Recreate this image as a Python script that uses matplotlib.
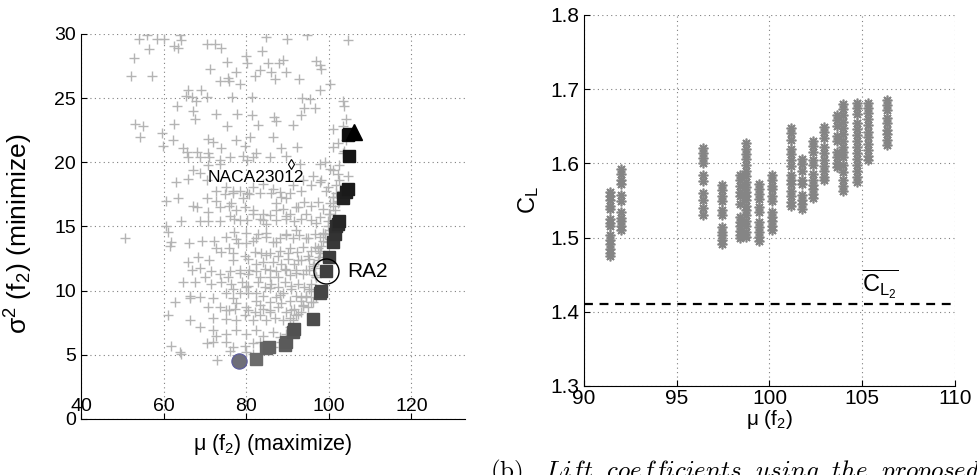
import matplotlib
matplotlib.use('Agg')
import matplotlib.pyplot as plt
import numpy as np

plt.rcParams['font.family'] = ['Liberation Sans', 'DejaVu Sans']
plt.rcParams['mathtext.default'] = 'regular'

# ---- left panel: all evaluated designs (mean vs variance of f2) ----
cloud_mu = [
    56.1, 54.1, 58.3, 56.5, 52.8, 52.1, 57.2, 60.1, 62.5, 63.9, 64.3, 63.5, 70.4, 72.5, 73.8, 80.0,
    83.9, 80.2, 84.9, 94.7, 89.8, 104.6, 75.4, 71.3, 77.5, 82.1, 75.5, 73.6, 75.8, 78.4, 83.3, 85.4,
    86.1, 86.9, 88.0, 88.9, 89.6, 92.8, 96.8, 97.8, 98.2, 100.3, 65.9, 66.9, 67.8, 65.5, 69.1, 63.3,
    70.6, 81.4, 76.5, 97.9, 93.4, 95.4, 103.4, 103.6, 96.6, 93.9,
    53.0, 55.1, 54.4, 62.5, 59.7, 59.9, 62.3, 64.6, 67.2, 67.6, 72.8, 75.3, 77.9, 81.4, 82.9, 86.7,
    87.3, 91.4, 93.2, 104.2, 101.0, 70.8, 72.0, 74.0, 77.6, 79.6, 80.9, 86.5, 88.5, 92.2, 101.0, 102.2,
    103.4, 65.6, 68.0, 68.8, 66.0, 70.8, 71.0, 73.6, 76.0, 79.3, 80.2, 81.6, 82.5, 85.7, 89.7, 93.0,
    97.8, 99.0, 100.2, 101.0, 102.2, 102.6, 70.8, 73.6,
    63.1, 63.6, 65.9, 67.1, 68.8, 70.4, 70.5, 70.8, 70.8, 72.8, 72.8, 75.2, 76.8, 78.5, 80.2, 81.7,
    84.1, 86.5, 88.1, 89.7, 91.4, 93.7, 96.2, 98.2, 99.8, 101.8, 101.0, 100.2, 102.2, 60.7, 67.2, 68.1,
    73.6, 75.9, 77.5, 79.6, 81.7, 84.1, 85.7, 87.3, 88.9, 90.5, 92.5, 94.1, 95.8, 97.4, 98.6, 100.0,
    101.4, 64.3, 68.8, 73.6, 77.0, 80.2, 83.3, 84.9, 87.3, 89.7, 91.7, 93.3, 95.8, 97.8, 99.8, 101.0,
    60.7, 50.6,
    61.1, 61.9, 61.5, 66.1, 69.4, 72.2, 72.6, 73.8, 75.8, 77.0, 78.0, 80.0, 81.6, 82.9, 84.9, 86.5,
    88.1, 89.7, 91.3, 92.9, 94.9, 96.6, 97.8, 99.0, 98.2, 99.8, 100.2, 97.4, 95.8, 93.8, 92.2, 90.5,
    88.1, 85.7, 83.7, 65.9, 68.3, 71.1, 76.8, 80.5, 82.5, 84.1, 86.5, 88.5, 90.1, 91.7, 93.3, 95.3,
    96.5, 97.7, 66.8, 68.8, 70.0, 71.6, 73.6, 76.0, 78.4, 80.5, 82.5, 84.5, 85.7, 87.3, 89.3, 90.5,
    92.1, 93.8, 95.3, 96.6, 64.7, 67.6, 71.6, 74.0, 76.4, 78.9, 80.5, 82.9, 84.5, 86.1, 87.7, 89.3,
    90.9, 92.5, 94.1, 95.7,
    66.3, 66.3, 62.7, 68.8, 72.0, 75.2, 76.8, 78.4, 80.5, 82.5, 84.1, 85.7, 87.3, 88.9, 90.5, 92.1,
    93.3, 94.5, 95.8, 97.0, 70.8, 73.6, 75.8, 77.4, 80.0, 82.1, 84.1, 85.7, 87.7, 89.7, 91.7, 93.3,
    95.0, 61.1, 66.3, 72.0, 75.2, 77.6, 79.6, 81.6, 83.3, 84.9, 86.9, 88.9, 90.5, 92.1, 68.8, 72.0,
    75.2, 77.6, 80.0, 82.5, 84.1, 86.5, 88.1, 89.7, 72.8, 75.2, 61.9, 70.4, 72.0, 76.8, 79.6, 81.6,
    83.3, 76.0, 63.9, 64.3, 72.9, 80.0, 81.6, 86.5, 88.5,
    102.6, 103.0, 101.8, 101.0, 100.2, 99.8, 99.0, 98.6, 97.8, 97.4, 96.6, 97.0, 95.7, 94.5, 93.7, 92.5,
    91.3, 90.5, 103.4, 104.2, 103.8, 104.6, 102.6,
    74.8, 76.8, 76.4, 79.2, 80.8, 83.3, 86.1, 88.5, 90.5, 93.3, 95.8, 97.8, 99.4, 101.0, 102.2, 76.0,
    78.4, 81.6, 84.1, 87.3, 89.7, 92.1, 94.5, 97.0, 98.6, 100.2, 75.2, 77.6, 80.0, 82.5, 84.9, 87.3,
    89.7, 92.1, 94.5, 96.6, 97.8, 76.8, 79.6, 82.1, 84.9, 87.7, 90.1, 92.5, 94.9, 96.1, 97.0, 94.5,
    92.1, 89.7, 87.7, 85.7, 83.3, 80.8, 78.4, 75.6, 76.8, 80.0, 82.5, 85.7, 88.1, 90.9, 93.3, 95.3,
    96.1, 93.7, 90.9, 88.5, 85.7, 83.3, 80.4, 77.6, 75.2,
]
cloud_var = [
    29.9, 29.6, 29.6, 28.8, 28.1, 26.7, 26.7, 29.6, 29.1, 29.9, 29.5, 28.9, 29.2, 29.2, 28.9, 28.3,
    28.7, 27.7, 29.8, 29.9, 29.6, 29.5, 27.8, 27.3, 27.0, 26.7, 26.6, 26.3, 26.3, 26.1, 27.2, 27.7,
    27.0, 26.5, 27.7, 28.0, 27.0, 26.5, 27.9, 27.6, 27.3, 26.1, 25.6, 25.1, 24.8, 25.2, 25.6, 24.4,
    25.1, 25.1, 25.1, 25.6, 25.0, 24.9, 24.8, 24.4, 24.2, 24.2,
    23.0, 22.8, 22.0, 23.0, 22.3, 21.3, 21.7, 21.1, 24.0, 23.4, 23.8, 22.8, 23.8, 23.7, 22.9, 23.5,
    23.2, 22.9, 23.7, 23.4, 22.6, 21.8, 21.6, 21.1, 21.7, 21.3, 22.0, 22.0, 21.1, 21.2, 21.2, 21.5,
    20.7, 20.8, 20.8, 20.4, 20.4, 20.7, 20.4, 20.2, 20.4, 20.5, 20.2, 20.4, 20.7, 20.4, 20.5, 19.9,
    19.9, 20.0, 19.5, 19.4, 19.1, 19.8, 19.8, 19.9,
    18.5, 17.2, 18.7, 19.4, 19.2, 18.6, 17.2, 16.1, 15.4, 17.8, 17.0, 18.1, 17.6, 17.8, 17.6, 18.1,
    18.3, 17.9, 17.7, 17.2, 18.2, 18.6, 18.9, 18.6, 18.1, 18.2, 17.3, 16.8, 17.0, 17.0, 16.6, 16.5,
    16.5, 16.6, 16.3, 16.5, 16.3, 16.0, 15.9, 16.8, 16.4, 16.0, 16.5, 16.9, 16.6, 16.9, 16.4, 16.0,
    16.3, 15.4, 15.4, 15.4, 15.6, 15.5, 15.6, 15.2, 15.5, 15.6, 15.4, 15.6, 15.5, 15.7, 15.4, 15.5,
    15.0, 14.1,
    14.6, 13.8, 13.5, 13.7, 13.9, 13.9, 13.3, 13.0, 13.3, 14.6, 13.7, 13.7, 13.9, 14.4, 14.2, 13.8,
    14.1, 14.4, 14.1, 14.3, 14.1, 14.4, 14.2, 14.4, 13.5, 13.8, 14.7, 13.3, 13.1, 13.4, 13.0, 13.3,
    13.1, 12.9, 12.9, 12.2, 12.6, 12.4, 12.4, 12.5, 12.1, 12.2, 12.2, 12.1, 12.5, 12.1, 12.4, 12.5,
    12.1, 12.6, 11.6, 11.8, 11.1, 11.5, 11.3, 11.5, 11.6, 11.3, 11.5, 11.7, 11.1, 11.5, 11.7, 11.2,
    11.6, 11.3, 11.6, 11.2, 10.7, 10.7, 10.5, 10.7, 10.5, 10.7, 10.4, 10.7, 10.3, 10.5, 10.3, 10.7,
    10.4, 10.5, 10.3, 10.5,
    9.6, 9.4, 9.1, 9.5, 9.4, 9.8, 9.4, 9.8, 9.8, 9.2, 9.6, 9.1, 9.5, 9.8, 9.2, 9.6,
    9.2, 9.6, 9.1, 9.5, 8.7, 8.7, 8.5, 8.6, 8.7, 8.3, 8.6, 8.3, 8.7, 8.3, 8.6, 8.3,
    8.7, 8.1, 7.7, 7.9, 7.8, 7.7, 8.1, 7.7, 8.1, 7.7, 7.9, 7.7, 7.9, 8.1, 7.2, 6.9,
    6.6, 6.9, 6.6, 6.9, 6.5, 6.8, 6.4, 6.6, 6.5, 6.0, 5.7, 5.9, 6.0, 5.6, 5.7, 5.9,
    6.0, 5.3, 5.2, 5.1, 4.6, 5.2, 5.1, 5.6, 6.0,
    18.6, 17.8, 17.6, 16.6, 16.0, 15.0, 14.4, 13.9, 13.1, 12.4, 11.8, 11.1, 10.0, 9.5, 8.9, 8.2,
    7.7, 7.2, 22.8, 21.7, 20.9, 18.9, 16.9,
    17.5, 17.8, 16.8, 17.2, 17.5, 17.6, 17.6, 17.3, 17.6, 17.8, 18.2, 18.5, 17.8, 17.3, 16.8, 15.8,
    15.5, 16.0, 15.5, 16.3, 15.8, 16.5, 16.0, 15.3, 14.5, 14.0, 14.2, 14.0, 14.5, 14.1, 14.5, 13.8,
    14.3, 14.7, 14.1, 13.4, 12.9, 12.9, 12.7, 13.0, 12.8, 12.7, 12.9, 12.4, 12.7, 11.9, 11.1, 11.6,
    11.4, 11.6, 11.1, 11.6, 11.1, 11.6, 11.4, 11.1, 10.1, 10.3, 9.8, 10.2, 9.7, 10.1, 9.5, 10.1,
    9.1, 8.8, 8.5, 9.0, 8.5, 8.9, 8.5, 9.0, 8.5,
]

# Pareto front (non-dominated designs), ordered from low to high variance
front_mu = [82.5, 84.9, 85.5, 89.3, 89.6, 91.3, 91.7, 96.2, 97.8, 98.2, 99.4, 100.0,
            101.0, 101.4, 101.8, 102.2, 102.6, 103.4, 104.2, 104.6, 105.0, 104.6, 105.0]
front_var = [4.7, 5.5, 5.6, 5.8, 6.0, 6.8, 7.0, 7.8, 9.8, 10.0, 11.5, 12.6,
             13.8, 14.4, 15.0, 15.2, 15.4, 17.2, 17.7, 17.9, 20.5, 22.1, 22.2]

min_var_design = (78.3, 4.5)
max_mean_design = (106.2, 22.4)
ra2_design = (99.4, 11.5)
baseline_design = (90.8, 19.9)

# ---- right panel: C_L of the front designs over the operating range ----
col_mu = [91.42, 91.98, 96.42, 97.46, 98.41, 98.71, 99.45, 100.15, 101.16,
          101.77, 102.36, 102.95, 103.66, 103.98, 104.73, 105.33, 106.32]
col_cl = [
    [1.562, 1.556, 1.550, 1.543, 1.538, 1.525, 1.519, 1.515, 1.503, 1.497, 1.491, 1.485, 1.479, 1.475],
    [1.592, 1.586, 1.578, 1.572, 1.557, 1.549, 1.534, 1.527, 1.522, 1.515, 1.510],
    [1.621, 1.614, 1.607, 1.600, 1.585, 1.576, 1.560, 1.551, 1.540, 1.530],
    [1.571, 1.564, 1.556, 1.549, 1.537, 1.531, 1.514, 1.508, 1.503, 1.497, 1.491],
    [1.585, 1.578, 1.570, 1.562, 1.556, 1.545, 1.528, 1.521, 1.515, 1.509, 1.504, 1.500],
    [1.627, 1.620, 1.613, 1.606, 1.598, 1.590, 1.583, 1.575, 1.568, 1.562, 1.556, 1.550, 1.543,
     1.537, 1.530, 1.523, 1.515, 1.508, 1.501],
    [1.572, 1.566, 1.559, 1.552, 1.541, 1.534, 1.521, 1.514, 1.508, 1.501, 1.495],
    [1.585, 1.578, 1.570, 1.565, 1.556, 1.549, 1.535, 1.528, 1.522, 1.515, 1.510],
    [1.648, 1.641, 1.632, 1.620, 1.612, 1.605, 1.597, 1.584, 1.577, 1.572, 1.563, 1.556, 1.548, 1.542],
    [1.606, 1.599, 1.590, 1.578, 1.572, 1.558, 1.551, 1.545, 1.539],
    [1.630, 1.623, 1.615, 1.605, 1.598, 1.586, 1.578, 1.571, 1.565, 1.559, 1.554],
    [1.649, 1.642, 1.634, 1.622, 1.614, 1.604, 1.597, 1.590, 1.582, 1.577],
    [1.665, 1.658, 1.650, 1.637, 1.630, 1.615, 1.608, 1.600, 1.595],
    [1.680, 1.673, 1.665, 1.656, 1.648, 1.640, 1.630, 1.622, 1.615, 1.609, 1.598, 1.588, 1.578,
     1.570, 1.563],
    [1.682, 1.675, 1.666, 1.655, 1.646, 1.638, 1.630, 1.622, 1.614, 1.606, 1.598, 1.590, 1.582, 1.575],
    [1.682, 1.675, 1.668, 1.660, 1.652, 1.642, 1.635, 1.626, 1.618, 1.610, 1.604],
    [1.686, 1.679, 1.672, 1.661, 1.655, 1.645, 1.639, 1.632, 1.625],
]
cl_mean_baseline = 1.41

grid_kw = dict(color='0.5', linestyle=(0, (1, 3)), linewidth=0.8)

fig = plt.figure(figsize=(9.78, 4.75), dpi=100)

# left panel
ax1 = fig.add_axes([0.0828, 0.1179, 0.3927, 0.8106])
ax1.plot(cloud_mu, cloud_var, '+', color='#b4b4b4', ms=6.5, mew=1.0, zorder=2)
shades = np.linspace(0.42, 0.05, len(front_mu))
for m, v, s in zip(front_mu, front_var, shades):
    ax1.plot(m, v, 's', color=str(s), ms=9, mec=str(s), zorder=3)
ax1.plot(*min_var_design, 'o', color='#6e6e78', mec='#5a5aa0', ms=11, mew=0.8, zorder=4)
ax1.plot(*max_mean_design, '^', color='black', ms=11, zorder=4)
ax1.plot(*ra2_design, 'o', mfc='none', mec='black', ms=18, mew=1.0, zorder=5)
ax1.text(ra2_design[0] + 10, ra2_design[1], 'RA2', fontsize=15, va='center', ha='center')
ax1.plot(*baseline_design, 'd', mfc='white', mec='black', ms=5, mew=0.8, zorder=5)
ax1.text(baseline_design[0] - 8.5, baseline_design[1] - 1.1, 'NACA23012',
         fontsize=12.5, va='center', ha='center', zorder=6)
ax1.set_xlim(40, 133)
ax1.set_ylim(0, 30)
ax1.set_xticks([40, 60, 80, 100, 120])
ax1.set_yticks([0, 5, 10, 15, 20, 25, 30])
ax1.grid(True, **grid_kw)
ax1.spines[['top', 'right']].set_visible(False)
ax1.tick_params(direction='in', length=4, labelsize=14)
ax1.tick_params(axis='x', pad=-15)
ax1.set_xlabel('μ (f$_2$) (maximize)', fontsize=15.5, va='top')
ax1.xaxis.set_label_coords(0.5, -0.035)
ax1.set_ylabel('σ$^2$ (f$_2$) (minimize)', fontsize=19)
ax1.yaxis.set_label_coords(-0.12, 0.48)

# right panel
ax2 = fig.add_axes([0.5971, 0.1874, 0.3794, 0.7811])
for m, cls in zip(col_mu, col_cl):
    ax2.plot([m] * len(cls), cls, marker=(8, 2, 0), ls='none', color='#858585',
             ms=7, mew=1.2, zorder=3)
ax2.axhline(cl_mean_baseline, color='black', ls=(0, (4, 3)), lw=1.6, zorder=4)
ax2.text(105.0, 1.438, r'$\overline{C_{L_2}}$', fontsize=17, math_fontfamily='cm',
         ha='left', va='center')
ax2.set_xlim(90, 110)
ax2.set_ylim(1.3, 1.8)
ax2.set_xticks([90, 95, 100, 105, 110])
ax2.set_yticks([1.3, 1.4, 1.5, 1.6, 1.7, 1.8])
ax2.grid(True, **grid_kw)
ax2.spines[['top', 'right']].set_visible(False)
ax2.tick_params(direction='in', length=4, labelsize=15)
ax2.tick_params(axis='x', pad=2)
ax2.set_xlabel('μ (f$_2$)', fontsize=15, va='top')
ax2.xaxis.set_label_coords(0.5, -0.058)
ax2.set_ylabel('C$_L$', fontsize=17)
ax2.yaxis.set_label_coords(-0.115, 0.5)

caption = (r'$\mathrm{(b)}\ \ \ \mathit{Lift}\ \ \mathit{coefficients}\ \ '
           r'\mathit{using}\ \ \mathit{the}\ \ \mathit{proposed}$')
fig.text(0.501, 0.036, caption, fontsize=18, math_fontfamily='cm', va='top', ha='left')

fig.savefig('out.png', dpi=100)
